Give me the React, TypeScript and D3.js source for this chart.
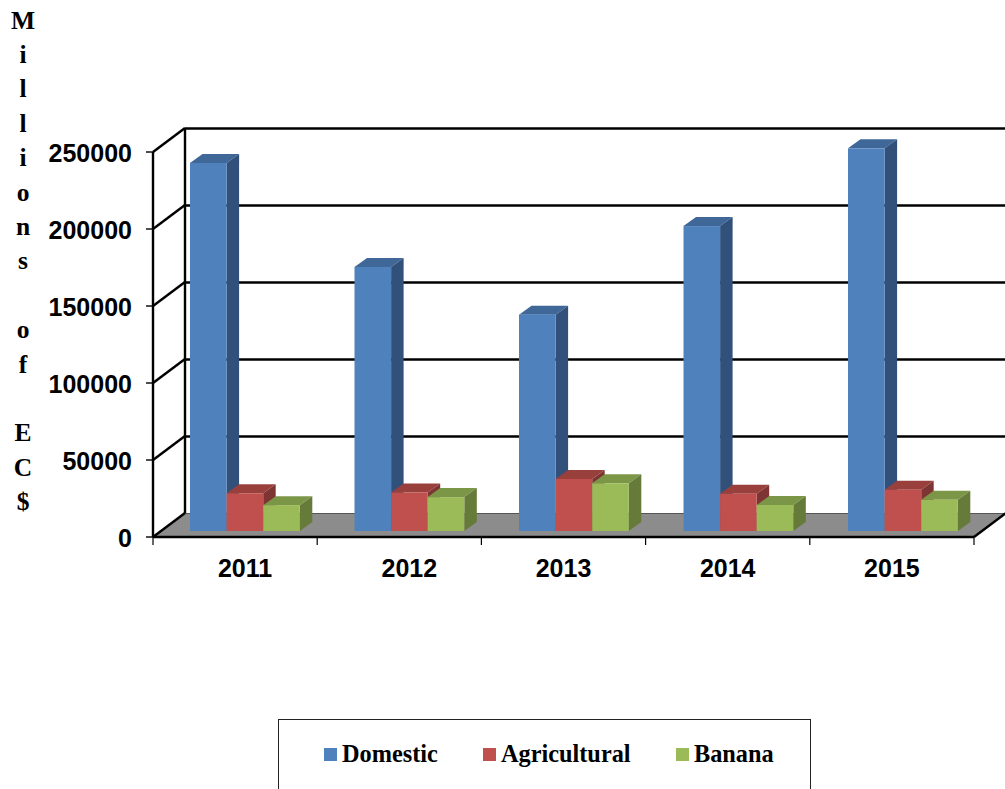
import React from "react";
import * as d3 from "d3";

const categories = ["2011", "2012", "2013", "2014", "2015"];
const seriesNames = ["Domestic", "Agricultural", "Banana"];
const domestic = [239000, 171500, 140500, 198000, 248500];
const agricultural = [24500, 25000, 33800, 24200, 26800];
const banana = [16800, 22000, 31000, 16900, 20300];
const yTicks = [0, 50000, 100000, 150000, 200000, 250000];
const titleChars = ["M", "i", "l", "l", "i", "o", "n", "s", "", "o", "f", "", "E", "C", "$"];
const seriesValues = [domestic, agricultural, banana];
const front = ["#4f81bd", "#c0504d", "#9bbb59"];
const top = ["#3f6797", "#99403d", "#7c9647"];
const side = ["#31507a", "#7d3432", "#667a3a"];

const W = 1005, H = 789;
const x = d3.scaleBand().domain(categories).range([153, 974]).paddingInner(0).paddingOuter(0);
const barX = d3.scaleBand().domain(categories).range([190, 1012.5]).paddingInner(0).paddingOuter(0);
const y = d3.scaleLinear().domain([0, 250000]).range([537, 152]);
const wallDx = 32, wallDy = -24;
const depthDx = 12.5, depthDy = -9;
const barW = 36.6, barBase = 6;
const labelShift = [10, 10, 0, 0, 0];
const legendSquareX = [324, 483, 676];

export default function App() {
  const xL = 153, xR = 974, y0 = y(0), yT = y(250000);
  return (
    <svg width={W} height={H} style={{ position: "absolute", left: 0, top: 0, background: "#fff" }}>
      {/* floor */}
      <polygon points={`${xL},${y0} ${xL + wallDx},${y0 + wallDy} ${xR + wallDx},${y0 + wallDy} ${xR},${y0}`} fill="#8c8c8c" />
      {/* back wall gridlines */}
      {yTicks.map((t) => (
        <g key={t} stroke="#000" strokeWidth={2.4} fill="none">
          <line x1={xL + wallDx} x2={W + 2} y1={y(t) + wallDy + 0.5} y2={y(t) + wallDy + 0.5} stroke={t === 0 ? "#555" : "#000"} strokeWidth={t === 0 ? 1 : 2.4} />
          <line x1={xL} x2={xL + wallDx} y1={y(t)} y2={y(t) + wallDy} />
          <line x1={xL - 7} x2={xL} y1={y(t)} y2={y(t)} strokeWidth={1.4} />
        </g>
      ))}
      <line x1={xL + wallDx} x2={xL + wallDx} y1={yT + wallDy} y2={y0 + wallDy} stroke="#000" strokeWidth={2.4} />
      <line x1={xL} x2={xL} y1={yT} y2={y0} stroke="#000" strokeWidth={2.4} />
      <line x1={xL} x2={xR} y1={y0} y2={y0} stroke="#000" strokeWidth={2.4} />
      <line x1={xR} x2={xR + wallDx} y1={y0} y2={y0 + wallDy} stroke="#000" strokeWidth={2.4} />
      {d3.range(categories.length + 1).map((i) => {
        const px = xL + i * x.bandwidth();
        return <line key={i} x1={px} x2={px} y1={y0} y2={y0 + 8} stroke="#000" strokeWidth={1.2} />;
      })}
      {/* bars */}
      {categories.map((c, ci) => {
        const gx = barX(c)!;
        return (
          <g key={c}>
            {seriesValues.map((vals, si) => {
              const x0 = gx + si * barW;
              const x1 = x0 + barW;
              const yb = y(0) - barBase;
              const yt = y(vals[ci]) - barBase;
              return (
                <g key={si}>
                  <polygon points={`${x0},${yt} ${x0 + depthDx},${yt + depthDy} ${x1 + depthDx},${yt + depthDy} ${x1},${yt}`} fill={top[si]} />
                  <polygon points={`${x1},${yt} ${x1 + depthDx},${yt + depthDy} ${x1 + depthDx},${yb + depthDy} ${x1},${yb}`} fill={side[si]} />
                  <rect x={x0} y={yt} width={barW} height={yb - yt} fill={front[si]} />
                </g>
              );
            })}
          </g>
        );
      })}
      {/* labels */}
      <g fontFamily="'Liberation Sans', Arial, sans-serif" fontWeight={700} fontSize={25} fill="#000">
        {yTicks.map((t) => (
          <text key={t} x={132} y={y(t) + 9.5} textAnchor="end">{t}</text>
        ))}
        {categories.map((c, i) => (
          <text key={c} x={x(c)! + x.bandwidth() / 2 + labelShift[i]} y={577} textAnchor="middle">{c}</text>
        ))}
      </g>
      <g fontFamily="'Liberation Serif', 'Times New Roman', serif" fontWeight={700} fontSize={25.5} fill="#000">
        {titleChars.map((ch, i) => (
          <text key={i} x={23} y={28.5 + i * 34.4} textAnchor="middle">{ch}</text>
        ))}
      </g>
      {/* legend */}
      <rect x={278.5} y={719.5} width={532} height={90} fill="#fff" stroke="#222" strokeWidth={1} />
      <g fontFamily="'Liberation Serif', 'Times New Roman', serif" fontWeight={700} fontSize={24.3} fill="#000">
        {seriesNames.map((n, i) => (
          <g key={n}>
            <rect x={legendSquareX[i]} y={748} width={13} height={13} fill={front[i]} />
            <text x={legendSquareX[i] + 18} y={762}>{n}</text>
          </g>
        ))}
      </g>
    </svg>
  );
}
